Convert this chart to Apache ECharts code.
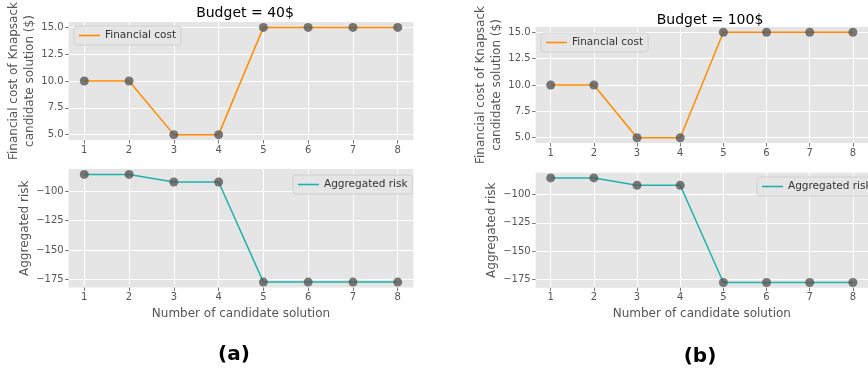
<!DOCTYPE html>
<html><head><meta charset="utf-8">
<script src="https://cdn.jsdelivr.net/npm/echarts@6/dist/echarts.min.js"></script>
<style>html,body{margin:0;padding:0;background:#fff}#c{width:868px;height:373px}</style>
</head><body><div id="c"></div>
<script>
// ---- data ----
const solutions = [1, 2, 3, 4, 5, 6, 7, 8];
const costA = [10, 10, 5, 5, 15, 15, 15, 15];
const riskA = [-85.5, -85.5, -92, -92, -177.5, -177.5, -177.5, -177.5];
const costB = [10, 10, 5, 5, 15, 15, 15, 15];
const riskB = [-85.5, -85.5, -92, -92, -177.5, -177.5, -177.5, -177.5];
const costTicks = [5, 7.5, 10, 12.5, 15];
const riskTicks = [-175, -150, -125, -100];
const titles = ['Budget = 40$', 'Budget = 100$'];
const panelLabels = ['(a)', '(b)'];
const costName = 'Financial cost of Knapsack\ncandidate solution ($)';
const riskName = 'Aggregated risk';
const xName = 'Number of candidate solution';
const costLegend = 'Financial cost';
const riskLegend = 'Aggregated risk';

// ---- styling ----
const FONT = 'DejaVu Sans';
const BG = '#E5E5E5';
const TXT = '#555555';
const ORANGE = '#FF8C00';
const TEAL = '#20B2AA';
const pairs = (ys) => solutions.map((x, i) => [x, ys[i]]);
const minus = (v) => (v < 0 ? '\u2212' + Math.abs(v) : String(v));

const grids = [
  { left: 68.6, top: 21, width: 344.8, height: 119 },
  { left: 68.6, top: 169, width: 344.8, height: 118.5 },
  { left: 535.6, top: 27, width: 339.4, height: 116 },
  { left: 535.6, top: 172.7, width: 339.4, height: 115 }
].map(g => Object.assign(g, { show: true, backgroundColor: BG, borderWidth: 0, containLabel: false }));

function xAxis(i, withName) {
  return {
    type: 'value', gridIndex: i, min: 0.65, max: 8.35,
    axisLine: { show: false },
    axisTick: { show: true, length: 3.5, customValues: solutions, lineStyle: { color: TXT, width: 0.8 } },
    axisLabel: { customValues: solutions, color: TXT, fontFamily: FONT, fontSize: 10, margin: 5 },
    splitLine: { show: true, lineStyle: { color: '#FFFFFF', width: 1 } },
    name: withName ? xName : '', nameLocation: 'middle', nameGap: 20,
    nameTextStyle: { color: TXT, fontFamily: FONT, fontSize: 12 }
  };
}
function yAxis(i, min, max, ticks, name, gap, fmt) {
  return {
    type: 'value', gridIndex: i, min: min, max: max,
    axisLine: { show: false },
    axisTick: { show: true, length: 3.5, customValues: ticks, lineStyle: { color: TXT, width: 0.8 } },
    axisLabel: { customValues: ticks, color: TXT, fontFamily: FONT, fontSize: 10, margin: 5, formatter: fmt },
    splitLine: { show: true, lineStyle: { color: '#FFFFFF', width: 1 } },
    name: name, nameLocation: 'middle', nameGap: gap,
    nameTextStyle: { color: TXT, fontFamily: FONT, fontSize: 12, lineHeight: 15.5 }
  };
}
const costFmt = (v) => v.toFixed(1);
const riskFmt = (v) => minus(v);

function lineSeries(name, idx, ys, color) {
  return {
    name: name, type: 'line', xAxisIndex: idx, yAxisIndex: idx, data: pairs(ys),
    showSymbol: false, symbol: 'none', lineStyle: { color: color, width: 1.5 }, itemStyle: { color: color },
    animation: false, z: 2
  };
}
function dotSeries(idx, ys) {
  return {
    type: 'scatter', xAxisIndex: idx, yAxisIndex: idx, data: pairs(ys),
    symbolSize: 9, itemStyle: { color: '#555555', opacity: 0.78 }, animation: false, z: 3
  };
}
function legend(name, left, top) {
  return {
    data: [name], left: left, top: top, orient: 'vertical',
    icon: 'rect', itemWidth: 21, itemHeight: 1.6, itemGap: 0,
    padding: [4, 5, 4, 5],
    backgroundColor: 'rgba(229,229,229,0.85)', borderColor: '#CCCCCC', borderWidth: 0.8, borderRadius: 3,
    textStyle: { color: '#333333', fontFamily: FONT, fontSize: 10.5 }
  };
}

const option = {
  animation: false,
  backgroundColor: '#FFFFFF',
  title: [
    { text: titles[0], left: 240, top: 1, textAlign: 'center', textStyle: { fontFamily: FONT, fontSize: 14, fontWeight: 'normal', color: '#000' } },
    { text: titles[1], left: 705, top: 8, textAlign: 'center', textStyle: { fontFamily: FONT, fontSize: 14, fontWeight: 'normal', color: '#000' } },
    { text: panelLabels[0], left: 229, top: 340, textAlign: 'center', textStyle: { fontFamily: FONT, fontSize: 20, fontWeight: 'bold', color: '#000' } },
    { text: panelLabels[1], left: 695, top: 342, textAlign: 'center', textStyle: { fontFamily: FONT, fontSize: 20, fontWeight: 'bold', color: '#000' } }
  ],
  legend: [
    legend(costLegend, 74, 26),
    legend(riskLegend, 293, 175),
    legend(costLegend, 541, 33),
    legend(riskLegend, 757, 177)
  ],
  grid: grids,
  xAxis: [xAxis(0, false), xAxis(1, true), xAxis(2, false), xAxis(3, true)],
  yAxis: [
    yAxis(0, 4.5, 15.5, costTicks, costName, 26, costFmt),
    yAxis(1, -182.1, -80.9, riskTicks, riskName, 36, riskFmt),
    yAxis(2, 4.5, 15.5, costTicks, costName, 25, costFmt),
    yAxis(3, -182.1, -80.9, riskTicks, riskName, 36, riskFmt)
  ],
  series: [
    lineSeries(costLegend, 0, costA, ORANGE), dotSeries(0, costA),
    lineSeries(riskLegend, 1, riskA, TEAL), dotSeries(1, riskA),
    lineSeries(costLegend, 2, costB, ORANGE), dotSeries(2, costB),
    lineSeries(riskLegend, 3, riskB, TEAL), dotSeries(3, riskB)
  ]
};
const chart = echarts.init(document.getElementById('c'), null, { renderer: 'canvas' });
chart.setOption(option);
</script></body></html>
